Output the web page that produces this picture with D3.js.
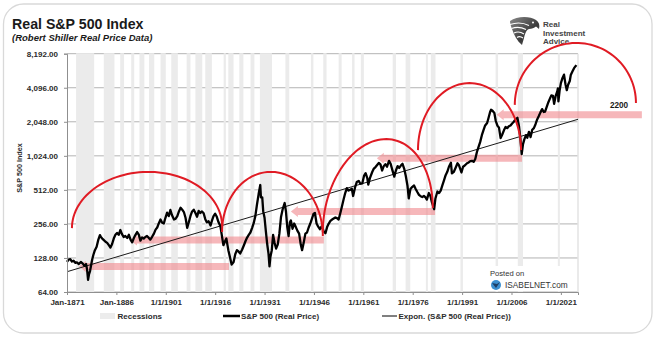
<!DOCTYPE html>
<html><head><meta charset="utf-8">
<script src="https://cdn.jsdelivr.net/npm/d3@7"></script>
<style>
html,body{margin:0;padding:0;background:#fff;}
svg{display:block;font-family:"Liberation Sans",Arial,Helvetica,sans-serif;}
</style></head><body>
<svg id="chart" width="657" height="342"></svg>
<script>
// Real S&P 500 price (Shiller data, inflation-adjusted), sampled points
const years = [1871.0,1871.5,1872.0,1872.5,1873.0,1873.5,1874.0,1874.6,1875.2,1875.8,1876.3,1876.8,1877.1,1877.4,1877.7,1878.0,1878.6,1879.0,1879.4,1880.0,1880.5,1881.0,1881.3,1881.7,1882.2,1882.7,1883.2,1883.7,1884.2,1884.7,1885.2,1885.7,1886.2,1886.7,1887.2,1887.7,1888.2,1888.7,1889.3,1889.8,1890.3,1890.8,1891.3,1891.8,1892.3,1892.8,1893.3,1893.8,1894.3,1894.8,1895.3,1895.8,1896.3,1896.8,1897.4,1897.9,1898.4,1898.9,1899.4,1899.9,1900.4,1900.9,1901.4,1901.9,1902.4,1902.9,1903.5,1904.0,1904.5,1905.0,1905.5,1906.0,1906.5,1907.0,1907.5,1908.0,1908.5,1909.0,1909.5,1910.0,1910.5,1911.0,1911.5,1912.0,1912.5,1913.0,1913.5,1914.0,1914.6,1915.0,1915.5,1916.0,1916.5,1917.0,1917.6,1918.0,1918.5,1919.0,1919.4,1920.0,1920.5,1921.0,1921.6,1922.1,1922.6,1923.1,1923.6,1924.2,1924.7,1925.2,1925.7,1926.2,1926.7,1927.2,1927.7,1928.2,1928.7,1929.2,1929.7,1929.9,1930.3,1930.6,1931.0,1931.4,1931.8,1932.2,1932.5,1932.8,1933.2,1933.6,1934.0,1934.5,1935.0,1935.5,1936.0,1936.5,1937.1,1937.5,1937.9,1938.3,1938.7,1939.0,1939.5,1940.0,1940.5,1941.0,1941.5,1942.0,1942.4,1942.9,1943.4,1943.9,1944.4,1944.9,1945.4,1945.9,1946.3,1946.8,1947.3,1947.8,1948.4,1948.9,1949.5,1950.0,1950.5,1951.0,1951.5,1952.0,1952.5,1953.0,1953.5,1954.0,1954.5,1955.0,1955.5,1956.0,1956.5,1957.0,1957.5,1957.9,1958.5,1959.0,1959.6,1960.1,1960.7,1961.2,1961.7,1962.2,1962.5,1963.0,1963.7,1964.2,1964.7,1965.2,1965.7,1966.2,1966.7,1967.2,1967.7,1968.2,1968.8,1969.3,1969.8,1970.4,1970.9,1971.4,1971.9,1972.4,1972.9,1973.4,1973.9,1974.4,1974.8,1975.3,1975.9,1976.4,1976.9,1977.4,1977.9,1978.4,1978.9,1979.4,1979.9,1980.3,1980.9,1981.4,1981.8,1982.5,1982.9,1983.5,1984.0,1984.5,1985.0,1985.5,1986.0,1986.5,1987.0,1987.6,1987.9,1988.5,1989.0,1989.6,1990.0,1990.8,1991.3,1991.8,1992.5,1993.0,1993.5,1994.0,1994.5,1995.0,1995.5,1996.0,1996.5,1997.0,1997.5,1998.0,1998.6,1999.0,1999.5,1999.8,2000.3,2000.8,2001.2,2001.7,2002.2,2002.7,2003.2,2003.7,2004.2,2004.7,2005.2,2005.7,2006.2,2006.7,2007.2,2007.8,2008.3,2008.7,2009.1,2009.5,2009.9,2010.4,2010.8,2011.3,2011.8,2012.3,2012.8,2013.3,2013.8,2014.3,2014.8,2015.3,2015.8,2016.2,2016.7,2017.2,2017.7,2018.1,2018.6,2018.95,2019.4,2019.9,2020.1,2020.25,2020.6,2021.0,2021.5,2021.95,2022.4,2022.8,2023.2,2023.7,2024.0,2024.5,2025.0,2025.7];
const realPrice = [118,124,125,119,121,116,117,113,118,114,109,113,101,82,92,98,122,136,148,161,185,204,196,190,184,178,174,166,158,170,190,205,213,205,226,208,196,200,192,205,186,176,192,205,217,206,182,194,190,196,200,193,186,196,210,228,238,260,280,262,258,290,322,300,340,305,280,285,300,330,356,342,326,290,236,265,301,330,342,320,296,334,320,330,318,282,264,270,248,272,300,315,296,266,244,205,166,180,190,150,130,112,118,138,150,146,140,152,165,180,194,205,215,235,260,300,380,470,565,440,440,330,290,220,170,140,108,132,150,205,176,155,168,210,295,345,392,330,240,200,265,275,232,258,240,222,210,168,150,175,210,215,238,258,285,315,320,258,242,230,245,222,212,240,258,272,280,286,292,288,280,318,365,420,480,530,505,512,525,452,540,600,615,580,585,680,720,650,570,650,737,790,815,850,885,860,760,830,865,820,925,870,770,670,760,830,800,840,870,790,680,560,430,520,545,560,522,490,462,450,443,452,440,420,480,450,400,345,430,495,480,505,560,620,690,740,820,890,715,740,800,880,850,730,820,840,880,895,920,925,905,960,1107,1230,1360,1560,1730,1900,2000,2200,2500,2620,2550,2450,2100,1900,1820,1470,1580,1720,1840,1800,1870,1900,1980,2050,2150,2220,1850,1450,1060,1300,1430,1560,1480,1670,1500,1740,1800,1950,2150,2300,2480,2650,2500,2520,2780,3050,3300,3500,3470,2950,3450,3800,4050,3100,3850,4500,5000,5350,4400,3900,4350,4700,5300,5700,6100,6500];

// Exponential trend line (fitted endpoints)
const trendYears = [1871, 2026.2];
const trendValues = [96.7, 2155];

// NBER recessions, peak to trough (decimal years)
const recessionStarts = [1873.75,1882.167,1887.167,1890.5,1893.0,1895.917,1899.417,1902.667,1907.333,1910.0,1913.0,1918.583,1920.0,1923.333,1926.75,1929.583,1937.333,1945.083,1948.833,1953.5,1957.583,1960.25,1969.917,1973.833,1980.0,1981.5,1990.5,2001.167,2007.917,2020.083];
const recessionEnds   = [1879.25,1885.417,1888.333,1891.417,1894.5,1897.5,1901.0,1904.667,1908.5,1912.083,1915.0,1919.25,1921.583,1924.583,1927.917,1933.25,1938.5,1945.833,1949.833,1954.417,1958.333,1961.167,1970.917,1975.25,1980.583,1982.917,1991.25,2001.917,2009.5,2020.333];

// Axis ticks
const yTickValues = [64,128,256,512,1024,2048,4096,8192];
const xTickYears = [1871,1886,1901,1916,1931,1946,1961,1976,1991,2006,2021];
const xTickLabels = ["Jan-1871","Jan-1886","1/1/1901","1/1/1916","1/1/1931","1/1/1946","1/1/1961","1/1/1976","1/1/1991","1/1/2006","1/1/2021"];

// Secular bull-market arcs: start/end dates, start/end levels, crest level
const cycleStartYears  = [1872.5, 1918.1, 1948.7, 1977.6, 2007.0];
const cycleEndYears    = [1918.1, 1948.7, 1982.1, 2008.9, 2043.8];
const cycleStartValues = [235, 217, 217, 1150, 2890];
const cycleEndValues   = [245, 200, 354, 1150, 3000];
const cyclePeakValues  = [738, 738, 1414, 4500, 10190];

// Support levels (pink arrows): from / to dates and level
const supportStartYears = [1874.6, 1890.1, 1939.0, 1965.1, 2001.5];
const supportEndYears   = [1920.2, 1949.0, 1982.8, 2009.2, 2045.6];
const supportValues     = [100, 172, 307, 906, 2200];
const supportLabel = "2200";

const svg = d3.select("#chart");
const plot = {left: 67, right: 578, top: 53.7, bottom: 292};

const x = d3.scaleLinear().domain([1871, 2026.2]).range([plot.left, plot.right]);
const y = d3.scaleLog().base(2).domain([64, 8192]).range([plot.bottom, plot.top]);

// card frame
svg.append("rect").attr("x", 3.5).attr("y", 4).attr("width", 648.5).attr("height", 329)
  .attr("rx", 20).attr("ry", 20).attr("fill", "#fff").attr("stroke", "#d9d9d9").attr("stroke-width", 1.3);

// title
svg.append("text").attr("x", 12).attr("y", 29).attr("font-size", 14.2).attr("font-weight", "bold")
  .attr("fill", "#1a1a1a").text("Real S&P 500 Index");
svg.append("text").attr("x", 12).attr("y", 40.5).attr("font-size", 9.5).attr("font-weight", "bold")
  .attr("font-style", "italic").attr("fill", "#1a1a1a").text("(Robert Shiller Real Price Data)");

// logo
const logo = svg.append("g").attr("transform", "translate(507,16)");
const defs = svg.append("defs");
const lg = defs.append("linearGradient").attr("id", "eagle").attr("x1", 0).attr("y1", 0).attr("x2", 1).attr("y2", 1);
lg.append("stop").attr("offset", "0%").attr("stop-color", "#8a8a8a");
lg.append("stop").attr("offset", "60%").attr("stop-color", "#3a3a3a");
lg.append("stop").attr("offset", "100%").attr("stop-color", "#6a6a6a");
logo.append("path").attr("fill", "url(#eagle)")
  .attr("d", "M3,5 C10,0 23,0 29,4 C32,6 33,9 32,13 L29,10.5 C27,12 25,13 22,13 C19,14 18,18 17,22 L15,29 C10,25 7,19 5,13 C4,10 3,8 3,5 Z");
logo.append("g").attr("fill", "none").attr("stroke", "#fff").attr("stroke-width", 1.1)
  .selectAll("path").data([
    "M3,8.5 C10,6 17,7 22,9.5",
    "M4.5,12.5 C10,10.5 15,11.5 19,13.5",
    "M7,17 C11,15 14,16 17,18",
    "M10,21.5 C12,20 14,20.5 16,22"
  ]).join("path").attr("d", d => d);
logo.append("circle").attr("cx", 26).attr("cy", 6.5).attr("r", 1).attr("fill", "#fff");
const logoText = svg.append("g").attr("font-size", 8).attr("font-weight", "bold").attr("fill", "#454545");
[["Real", 27.3], ["Investment", 35.6], ["Advice", 43.9]].forEach(([t, yy]) =>
  logoText.append("text").attr("x", 543).attr("y", yy).text(t));

// gridlines
svg.append("g").selectAll("line").data(yTickValues).join("line")
  .attr("x1", plot.left).attr("x2", plot.right)
  .attr("y1", d => y(d)).attr("y2", d => y(d))
  .attr("stroke", "#b3b3b3").attr("stroke-width", 1);

// recession bands
const recessions = d3.zip(recessionStarts, recessionEnds);
svg.append("g").selectAll("rect").data(recessions).join("rect")
  .attr("x", d => x(d[0]))
  .attr("width", d => Math.max(x(d[1]) - x(d[0]), 2))
  .attr("y", plot.top - 0.5).attr("height", plot.bottom - plot.top + 0.5)
  .attr("fill", "#ebebeb");
svg.append("line").attr("x1", plot.right).attr("x2", plot.right)
  .attr("y1", plot.top).attr("y2", plot.bottom).attr("stroke", "#e3e3e3").attr("stroke-width", 1.5);

// support arrows
const supports = d3.zip(supportStartYears, supportEndYears, supportValues);
const barH = 7, headL = 7, headH = 5.5;
svg.append("g").selectAll("path").data(supports).join("path")
  .attr("d", d => {
    const x0 = x(d[0]), x1 = x(d[1]), yb = y(d[2]), yt = yb - barH, yc = yb - barH / 2;
    return `M${x0},${yc} L${x0 + headL},${yc - headH} L${x0 + headL},${yt} L${x1},${yt} L${x1},${yb} L${x0 + headL},${yb} L${x0 + headL},${yc + headH} Z`;
  })
  .attr("fill", "#f08a90").attr("fill-opacity", 0.62);

// trend line
svg.append("line")
  .attr("x1", x(trendYears[0])).attr("y1", y(trendValues[0]))
  .attr("x2", x(trendYears[1])).attr("y2", y(trendValues[1]))
  .attr("stroke", "#1a1a1a").attr("stroke-width", 1);

// price line
const series = d3.zip(years, realPrice);
svg.append("path").datum(series)
  .attr("d", d3.line().x(d => x(d[0])).y(d => y(d[1])))
  .attr("fill", "none").attr("stroke", "#000").attr("stroke-width", 2.3).attr("stroke-linejoin", "round");

// axes
const yAxis = svg.append("g").attr("transform", `translate(${plot.left},0)`)
  .call(d3.axisLeft(y).tickValues(yTickValues).tickFormat(d3.format(",.2f")).tickSize(3).tickPadding(6));
const xAxis = svg.append("g").attr("transform", `translate(0,${plot.bottom})`)
  .call(d3.axisBottom(x).tickValues(xTickYears).tickFormat((d, i) => xTickLabels[i]).tickSize(3).tickPadding(4));
[yAxis, xAxis].forEach(a => {
  a.select(".domain").attr("stroke", "#8f8f8f");
  a.selectAll(".tick line").attr("stroke", "#8f8f8f");
  a.selectAll("text").attr("font-size", 8).attr("font-weight", "bold").attr("fill", "#2b2b2b")
    .attr("font-family", "'Liberation Sans', Arial, sans-serif");
});
svg.append("text").attr("transform", "translate(22,168) rotate(-90)").attr("text-anchor", "middle")
  .attr("font-size", 7.2).attr("font-weight", "bold").attr("fill", "#2b2b2b").text("S&P 500 Index");

// arcs
const cycles = d3.range(cycleStartYears.length).map(i => ({
  x0: x(cycleStartYears[i]), x1: x(cycleEndYears[i]),
  y0: y(cycleStartValues[i]), y1: y(cycleEndValues[i]), yp: y(cyclePeakValues[i])
}));
svg.append("g").selectAll("path").data(cycles).join("path")
  .attr("d", c => {
    const cx = (c.x0 + c.x1) / 2, rx = (c.x1 - c.x0) / 2, ry = (c.y0 + c.y1) / 2 - c.yp;
    const pts = d3.range(0, 61).map(k => {
      const t = Math.PI - Math.PI * k / 60;
      const u = (1 - Math.cos(Math.PI - t)) / 2;
      return [cx + rx * Math.cos(t), c.y0 + (c.y1 - c.y0) * u - ry * Math.sin(t)];
    });
    return d3.line()(pts);
  })
  .attr("fill", "none").attr("stroke", "#e01b24").attr("stroke-width", 2);

svg.append("text").attr("x", 619).attr("y", y(supportValues[4]) - 10).attr("text-anchor", "middle")
  .attr("font-size", 8.2).attr("font-weight", "bold").attr("fill", "#1a1a1a").text(supportLabel);

// watermark
svg.append("rect").attr("x", 486).attr("y", 266).attr("width", 90).attr("height", 25).attr("fill", "#fff");
svg.append("text").attr("x", 490).attr("y", 276).attr("font-size", 7.6).attr("fill", "#333").text("Posted on");
const ib = svg.append("g").attr("transform", "translate(496,285)");
ib.append("circle").attr("r", 5).attr("fill", "#3b8fd0");
ib.append("path").attr("d", "M-4,-2 L0,3 L4,-3 L1,-1 Z").attr("fill", "#1c3f66");
svg.append("text").attr("x", 505).attr("y", 288).attr("font-size", 8.3).attr("fill", "#333").text("ISABELNET.com");

// legend
const lgd = svg.append("g").attr("font-size", 8).attr("font-weight", "bold").attr("fill", "#2b2b2b");
lgd.append("rect").attr("x", 100).attr("y", 313).attr("width", 15).attr("height", 6).attr("fill", "#ececec");
lgd.append("text").attr("x", 117.5).attr("y", 319).text("Recessions");
lgd.append("line").attr("x1", 223).attr("x2", 240).attr("y1", 316).attr("y2", 316).attr("stroke", "#000").attr("stroke-width", 2.5);
lgd.append("text").attr("x", 241).attr("y", 319).text("S&P 500 (Real Price)");
lgd.append("line").attr("x1", 382).attr("x2", 397).attr("y1", 316).attr("y2", 316).attr("stroke", "#000").attr("stroke-width", 1);
lgd.append("text").attr("x", 398.5).attr("y", 319).text("Expon. (S&P 500 (Real Price))");
</script>
</body></html>
